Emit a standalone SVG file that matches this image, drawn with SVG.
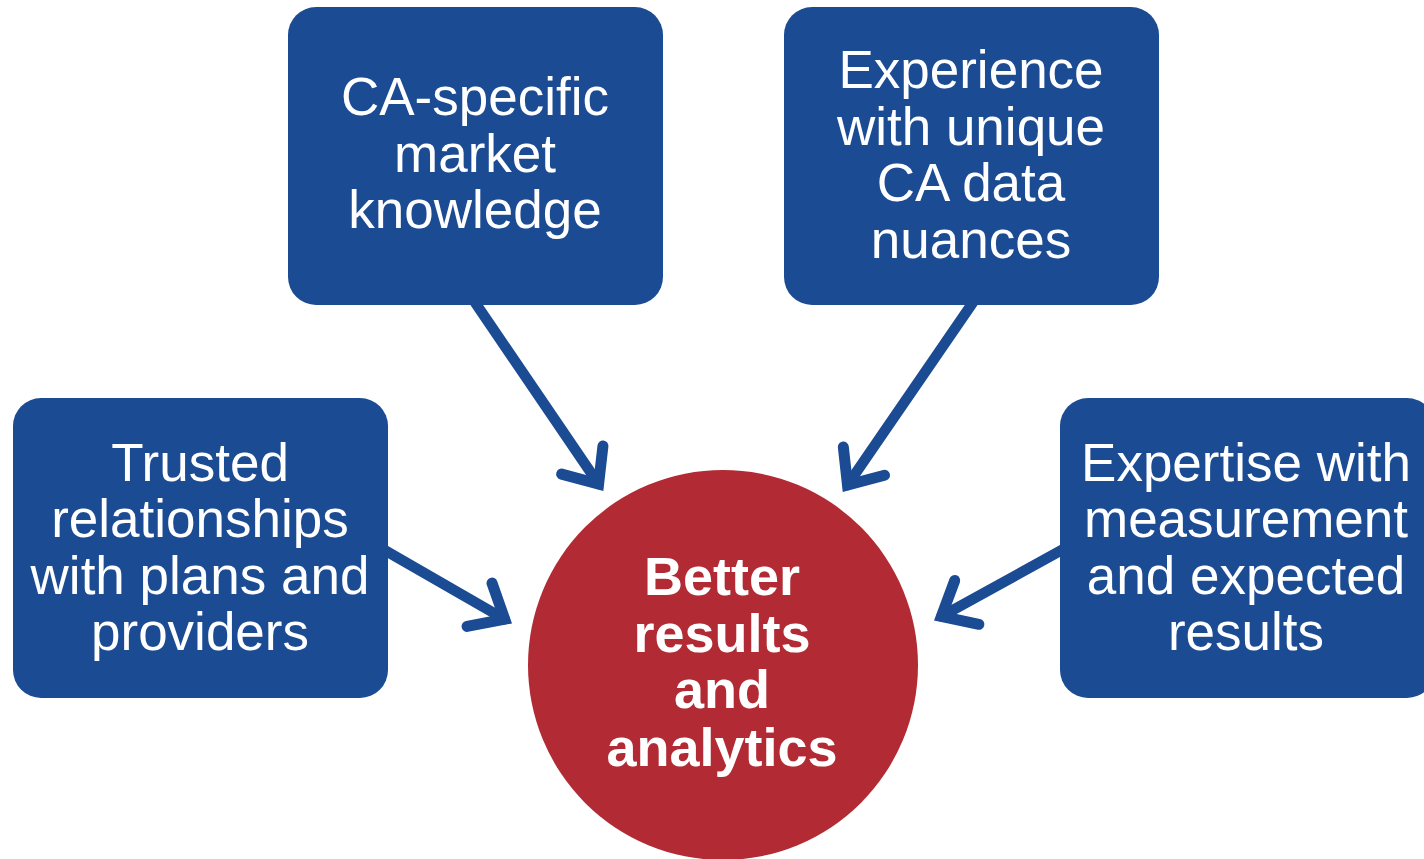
<svg xmlns="http://www.w3.org/2000/svg" width="1424" height="859" viewBox="0 0 1424 859">
<style>
.box{fill:#1B4B93}
.t{font-family:"Liberation Sans",Arial,sans-serif;font-size:53px;fill:#fff;text-anchor:middle}
.b{font-family:"Liberation Sans",Arial,sans-serif;font-size:54px;font-weight:bold;fill:#fff;text-anchor:middle}
.c{fill:none;stroke:#1B4B93;stroke-width:10.5;stroke-linecap:round}
</style>
<defs>
<marker id="ah" markerUnits="userSpaceOnUse" viewBox="-50 -40 60 80" refX="0" refY="0" markerWidth="60" markerHeight="80" orient="auto" overflow="visible">
<path d="M-29,-25 L0,0 L-29,25" fill="none" stroke="#1B4B93" stroke-width="11" stroke-linecap="round" stroke-linejoin="miter" stroke-miterlimit="10"/>
</marker>
</defs>
<rect width="1424" height="859" fill="#fff"/>
<g id="connectors">
<path class="c" d="M472,298 L598.6,484" marker-end="url(#ah)"/>
<path class="c" d="M976,298 L847.5,485" marker-end="url(#ah)"/>
<path class="c" d="M375,544.6 L504.7,619.2" marker-end="url(#ah)"/>
<path class="c" d="M1072,544.4 L941.4,616.4" marker-end="url(#ah)"/>
</g>
<g id="node-market">
<rect class="box" x="288" y="7" width="375" height="298" rx="28"/>
<text class="t" x="475" y="115">CA-specific</text>
<text class="t" x="475" y="172">market</text>
<text class="t" x="475" y="228">knowledge</text>
</g>
<g id="node-data">
<rect class="box" x="784" y="7" width="375" height="298" rx="28"/>
<text class="t" x="971" y="88">Experience</text>
<text class="t" x="971" y="145">with unique</text>
<text class="t" x="971" y="201">CA data</text>
<text class="t" x="971" y="258">nuances</text>
</g>
<g id="node-trusted">
<rect class="box" x="13" y="398" width="375" height="300" rx="28"/>
<text class="t" x="200" y="481">Trusted</text>
<text class="t" x="200" y="537">relationships</text>
<text class="t" x="200" y="594">with plans and</text>
<text class="t" x="200" y="650">providers</text>
</g>
<g id="node-expertise">
<rect class="box" x="1060" y="398" width="375" height="300" rx="28"/>
<text class="t" x="1246" y="481">Expertise with</text>
<text class="t" x="1246" y="537">measurement</text>
<text class="t" x="1246" y="594">and expected</text>
<text class="t" x="1246" y="650">results</text>
</g>
<g id="node-center">
<circle cx="723" cy="665" r="195" fill="#B22A33"/>
<text class="b" x="722" y="595">Better</text>
<text class="b" x="722" y="652">results</text>
<text class="b" x="722" y="708">and</text>
<text class="b" x="722" y="766">analytics</text>
</g>
</svg>
